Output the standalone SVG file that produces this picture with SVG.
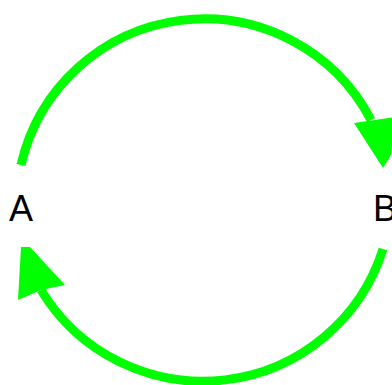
<svg xmlns="http://www.w3.org/2000/svg" width="392" height="385" viewBox="0 0 392 385">
<style>
.edge{fill:none;stroke:#00ff00;stroke-width:9;stroke-linecap:butt}
.head{fill:#00ff00;stroke:none}
.lbl{font-family:"Liberation Sans",Arial,sans-serif;font-size:36px;fill:#000;text-anchor:middle}
</style>
<rect width="392" height="385" fill="#fff"/>
<g id="edges">
<path class="edge" d="M21,165 A188,188 0 0 1 371,120"/>
<polygon class="head" points="354,123 395,117 391,155 383,168"/>
<path class="edge" d="M383,249 A189,189 0 0 1 41,290"/>
<polygon class="head" points="21,247 30,247 65,285 41,290 18,300"/>
</g>
<g id="A"><text class="lbl" x="21" y="221">A</text></g>
<g id="B"><text class="lbl" x="385" y="221">B</text></g>
</svg>
